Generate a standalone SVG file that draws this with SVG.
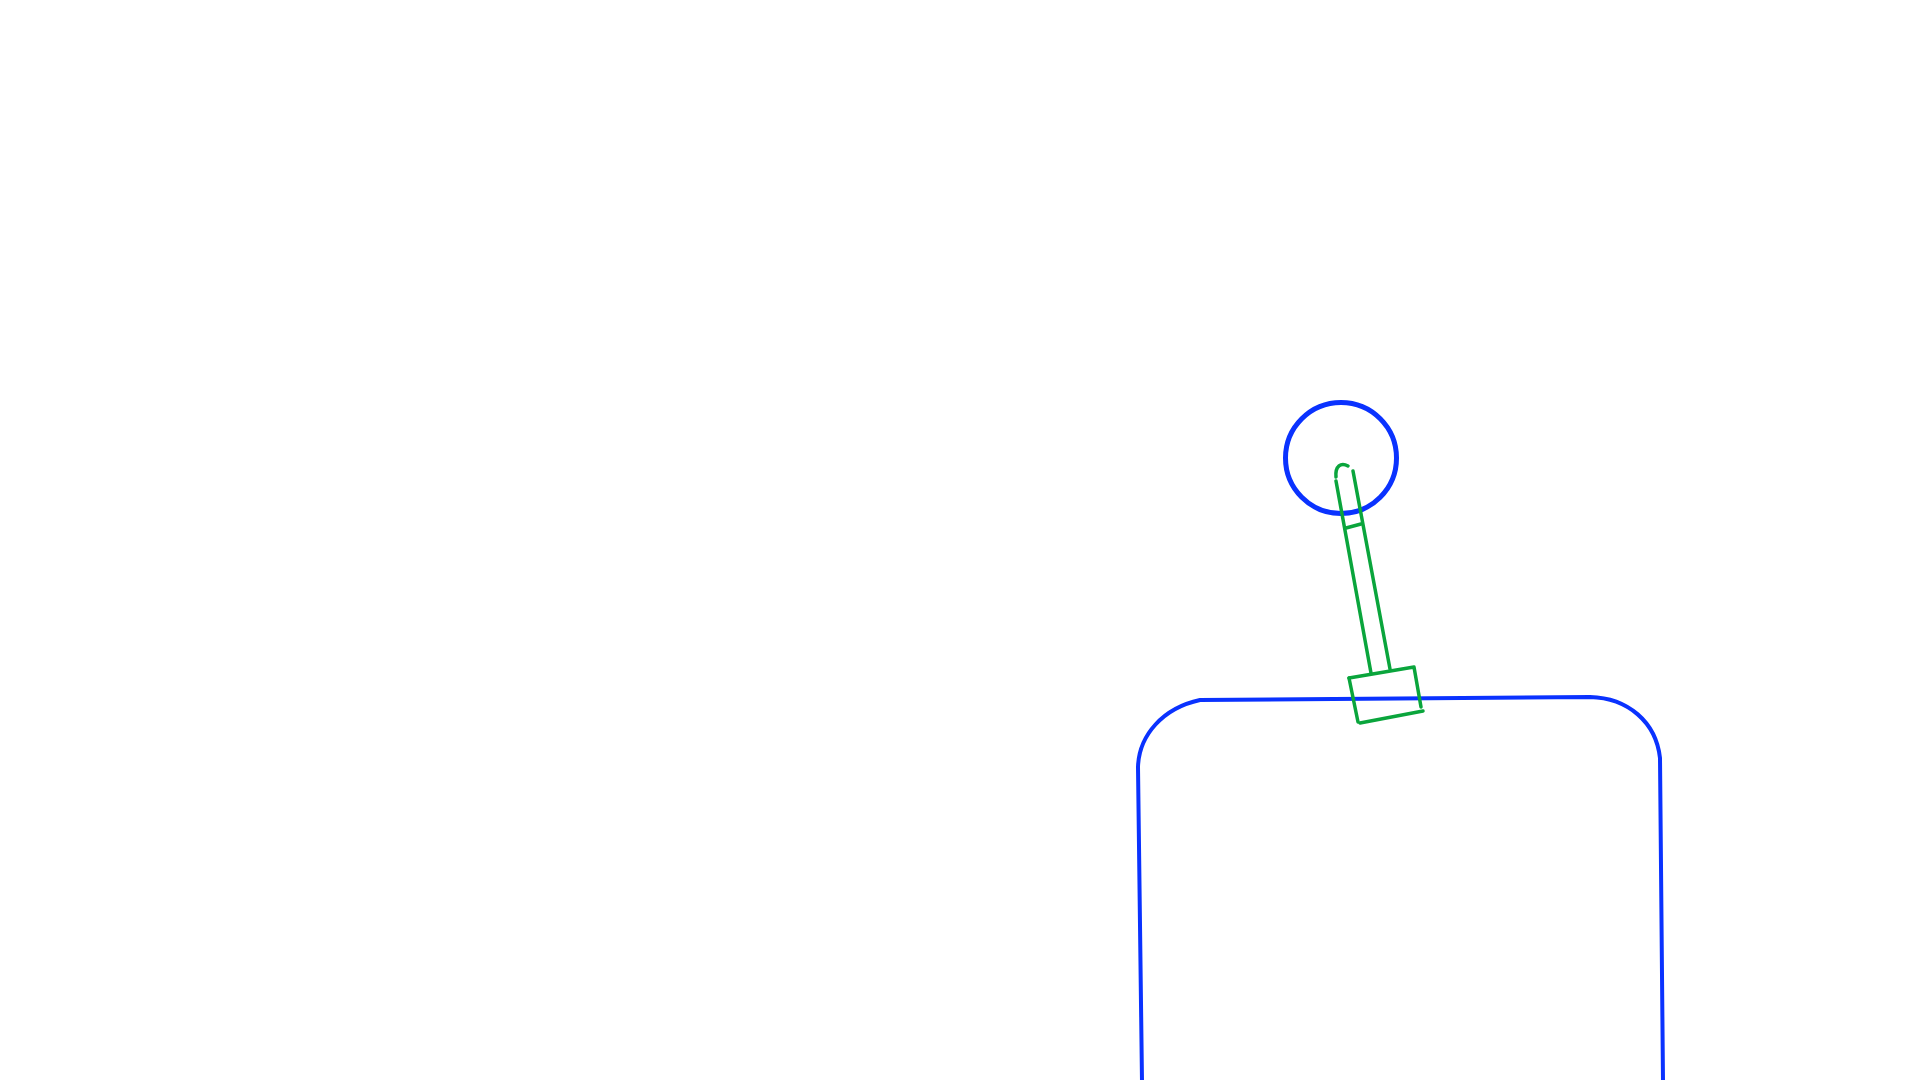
<svg xmlns="http://www.w3.org/2000/svg" width="1920" height="1080" viewBox="0 0 1920 1080">
<style>
.b{fill:none;stroke:#0a32ff;stroke-width:4;stroke-linecap:round;stroke-linejoin:round}
.c{fill:none;stroke:#0a32ff;stroke-width:5}
.g{fill:none;stroke:#0aa53c;stroke-width:3.5;stroke-linecap:round;stroke-linejoin:round}
</style>
<rect width="1920" height="1080" fill="#fff"/>
<g id="body">
<path class="b" d="M1142,1082 L1138,767 C1139,735 1163,708 1200,700 L1590,697 C1628,698 1656,722 1660,758 L1663,1082"/>
</g>
<g id="ball">
<circle class="c" cx="1341" cy="458" r="55.5"/>
</g>
<g id="stick">
<path class="g" d="M1336,481 L1371,673"/>
<path class="g" d="M1353,471 L1390,669"/>
<path class="g" d="M1336,477 C1335,466 1341,462 1348,466"/>
<path class="g" d="M1346,528 L1361,524"/>
<path class="g" d="M1349,678 L1414,667 L1421,707"/>
<path class="g" d="M1349,678 L1358,722"/>
<path class="g" d="M1360,723 L1423,711"/>
</g>
</svg>
